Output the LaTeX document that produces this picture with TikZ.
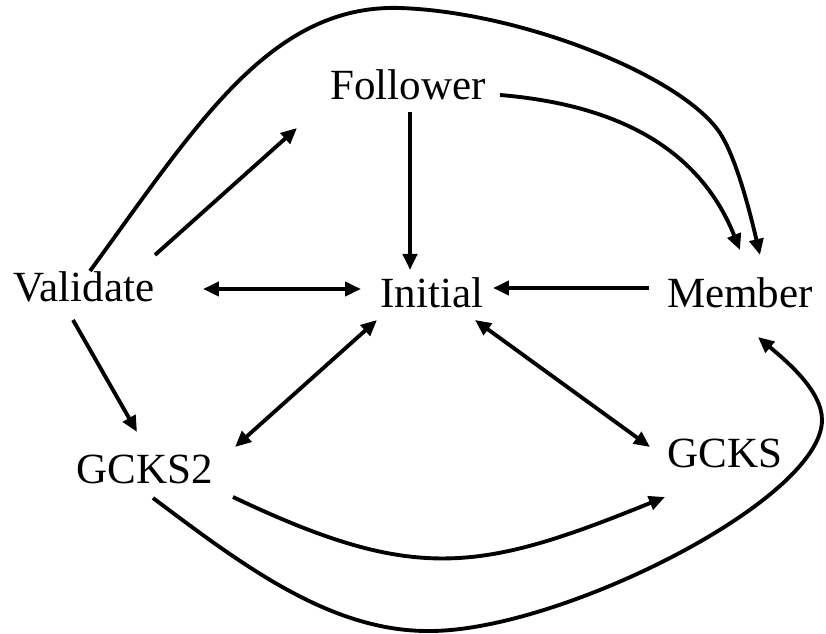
\documentclass[tikz,border=0pt]{standalone}
\usepackage{fontspec}
\setmainfont{Liberation Serif}
\usetikzlibrary{arrows.meta}

\tikzset{
  arr/.style={line width=2.2pt,-{Triangle[length=0.32cm,width=0.28cm]}},
  biarr/.style={line width=2.2pt,{Triangle[length=0.32cm,width=0.28cm]}-{Triangle[length=0.32cm,width=0.28cm]}},
  statenode/.style={anchor=base,inner sep=0pt}
}

\begin{document}
\begin{tikzpicture}[x=0.02cm,y=-0.02cm,every node/.style={font=\fontsize{24.5}{29}\selectfont}]
    \useasboundingbox (0,0) rectangle (826,634);

    % states
    \node[statenode] (follower) at (408,100) {Follower};
    \node[statenode] (validate) at (84,302) {Validate};
    \node[statenode] (initial) at (432,308) {Initial};
    \node[statenode] (member) at (740,308) {Member};
    \node[statenode] (gcks2) at (145,484) {GCKS2};
    \node[statenode] (gcks) at (725,468) {GCKS};

    % straight transitions
    \draw[arr] ([shift={(2,12)}]follower.base) -- ([shift={(-22,-38)}]initial.base);
    \draw[arr] ([shift={(71,-47)}]validate.base) -- ([shift={(-111,28)}]follower.base);
    \draw[biarr] ([shift={(119,-13)}]validate.base) -- ([shift={(-71,-19)}]initial.base);
    \draw[arr] ([shift={(-91,-20)}]member.base) -- ([shift={(61,-20)}]initial.base);
    \draw[arr] ([shift={(-11,18)}]validate.base) -- ([shift={(-8,-52)}]gcks2.base);
    \draw[biarr] ([shift={(-55,12)}]initial.base) -- ([shift={(90,-37)}]gcks2.base);
    \draw[biarr] ([shift={(43,12)}]initial.base) -- ([shift={(-75,-21)}]gcks.base);

    % curved transitions
    \draw[arr] ([shift={(92,-5)}]follower.base) .. controls (620,105) and (700,150) .. ([shift={(0,-58)}]member.base);
    \draw[arr] ([shift={(6,-31)}]validate.base) .. controls (196,126) and (270,4) .. (400,8)
      .. controls (520,12) and (681,75) .. (720,133)
      .. controls (736,158) and (749,208) .. ([shift={(20,-53)}]member.base);
    \draw[arr] ([shift={(88,13)}]gcks2.base) .. controls (414,583) and (478,573) .. ([shift={(-60,29)}]gcks.base);
    \draw[arr] ([shift={(8,14)}]gcks2.base) .. controls (241,564) and (330,632) .. (430,631)
      .. controls (560,631) and (822,500) .. (822,420)
      .. controls (822,390) and (785,360) .. ([shift={(18,29)}]member.base);
\end{tikzpicture}
\end{document}
